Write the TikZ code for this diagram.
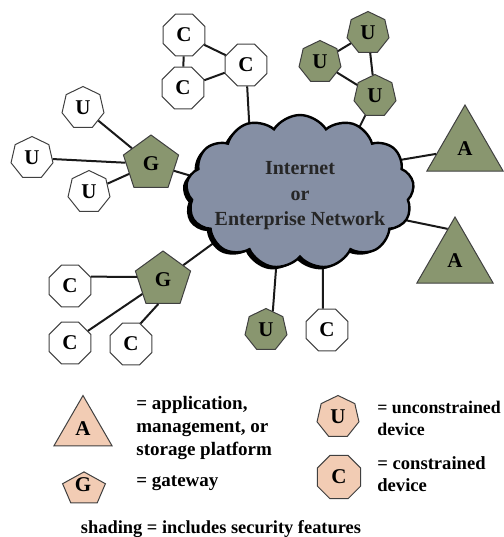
\documentclass[tikz,border=0pt]{standalone}
\usepackage{fontspec}
\setmainfont{Liberation Serif}
\usetikzlibrary{shapes.geometric,shapes.symbols,shadows}
\definecolor{secgreen}{RGB}{137,150,111}
\definecolor{netblue}{RGB}{133,143,164}
\definecolor{legpeach}{RGB}{242,204,180}

\begin{document}
\begin{tikzpicture}[x=0.5pt,y=-0.5pt,
    dev/.style={draw=black!75,line width=0.5pt,regular polygon,inner sep=0pt,font=\fontsize{10.5}{12}\selectfont\bfseries},
    udev/.style={dev,regular polygon sides=7,minimum size=21.5pt},
    cdev/.style={dev,regular polygon sides=8,minimum size=22.5pt},
    gw/.style={dev,regular polygon sides=5,minimum size=29pt},
    app/.style={dev,regular polygon sides=3,minimum size=44pt},
    link/.style={line width=1pt,black!90},
    legtext/.style={anchor=west,align=left,inner sep=0pt,font=\fontsize{9.5}{11.5}\selectfont\bfseries}]
  \useasboundingbox (0,0) rectangle (504,537);
  % upper C cluster
  \node[cdev] (c1) at (184,35) {C};
  \node[cdev] (c2) at (183,88) {C};
  \node[cdev] (c3) at (246,65) {C};
  % upper U cluster
  \node[udev,fill=secgreen] (u1) at (320,62) {U};
  \node[udev,fill=secgreen] (u2) at (368,33) {U};
  \node[udev,fill=secgreen] (u3) at (375,96) {U};
  % platforms
  \node[app,fill=secgreen] (a1) at (465,149) {A};
  \node[app,fill=secgreen] (a2) at (455,261) {A};
  % gateway with U devices
  \node[gw,fill=secgreen] (g1) at (151,164) {G};
  \node[udev] (u4) at (83,108) {U};
  \node[udev] (u5) at (32,158) {U};
  \node[udev] (u6) at (89,192) {U};
  % gateway with C devices
  \node[gw,fill=secgreen] (g2) at (163,280) {G};
  \node[cdev] (c4) at (70,286) {C};
  \node[cdev] (c5) at (70,343) {C};
  \node[cdev] (c6) at (131,344) {C};
  % devices below the cloud
  \node[udev,fill=secgreen] (u7) at (266,330) {U};
  \node[cdev] (c7) at (327,330) {C};

  % link ends inside the cloud
  \coordinate (nc3) at (250,138);
  \coordinate (nu3) at (355,136);
  \coordinate (na1) at (388,162);
  \coordinate (na2) at (390,217);
  \coordinate (ng1) at (205,180);
  \coordinate (ng2) at (215,242);
  \coordinate (nu7) at (277,256);
  \coordinate (nc7) at (323,256);

  \draw[link] (c1)--(c2) (c1)--(c3) (c2)--(c3) (c3)--(nc3);
  \draw[link] (u1)--(u2) (u1)--(u3) (u2)--(u3) (u3)--(nu3);
  \draw[link] (a1)--(na1) (a2.103)--(na2);
  \draw[link] (g1)--(u4) (g1)--(u5) (g1)--(u6) (g1)--(ng1);
  \draw[link] (c4.24)--(g2.173) (c5)--(g2) (c6.65)--(g2.259) (g2)--(ng2);
  \draw[link] (u7.70)--(nu7) (c7.101)--(nc7);

  % the network
  \node[cloud,cloud puffs=13,cloud puff arc=115,aspect=1.5,minimum width=114pt,minimum height=77pt,
    fill=netblue,draw=black,line width=1.2pt,
    drop shadow={shadow xshift=-1.8pt,shadow yshift=-1.2pt,fill=black,opacity=1}] (net) at (300,192) {};
  \node[align=center,text=black!85,font=\fontsize{10}{12.75}\selectfont\bfseries] (nettext) at (300,196)
    {Internet\\or\\Enterprise Network};

  % legend
  \node[app,fill=legpeach,minimum size=33.5pt] (la) at (83,429) {A};
  \node[legtext] (lat) at (136,428) {= application,\\management, or\\storage platform};
  \begin{scope}[shift={(84,489)},yscale=0.76]
    \node[gw,fill=legpeach,minimum size=22.5pt,transform shape] (lg) at (0,0) {};
  \end{scope}
  \node[font=\fontsize{10.5}{12}\selectfont\bfseries] (lgl) at (83,485) {G};
  \node[legtext] (lgt) at (136,483) {= gateway};
  \node[udev,fill=legpeach] (lu) at (338,417) {U};
  \node[legtext,font=\fontsize{8.9}{11}\selectfont\bfseries] (lut) at (377,418) {= unconstrained\\device};
  \node[cdev,fill=legpeach,minimum size=23.5pt] (lc) at (339,477) {C};
  \node[legtext,font=\fontsize{9.3}{11}\selectfont\bfseries] (lct) at (377,474) {= constrained\\device};
  \node[inner sep=0pt,font=\fontsize{9.2}{11}\selectfont\bfseries] (shade) at (221,529)
    {shading = includes security features};
\end{tikzpicture}
\end{document}
